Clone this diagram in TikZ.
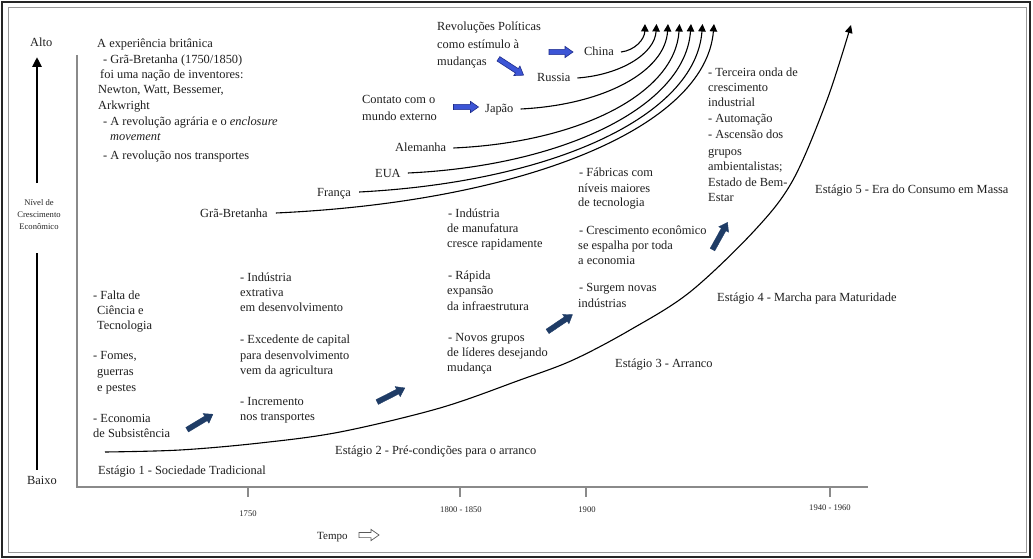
\documentclass[tikz,border=0pt]{standalone}
\usepackage{fontspec}
\setmainfont{Liberation Serif}
\usetikzlibrary{arrows.meta}
\definecolor{navy}{HTML}{1F3C66}
\definecolor{revblue}{HTML}{3C55D6}
\definecolor{revedge}{HTML}{1E2C8A}
\definecolor{axisgrey}{HTML}{8A8A8A}
\tikzset{
  txt/.style={anchor=base west, inner sep=0pt, font=\fontsize{12.4}{14}\selectfont, text=black!88},
  small/.style={anchor=base, inner sep=0pt, font=\fontsize{8.6}{10}\selectfont, text=black!85},
  curve/.style={line width=1.1pt, -{Triangle[length=7.5pt,width=7.5pt]}},
  pics/barrow/.style={code={%
    \path[pic actions] ({-#1/2},-2.6) -- ({#1/2-8},-2.6) -- ({#1/2-8},-5.6) -- ({#1/2},0)
      -- ({#1/2-8},5.6) -- ({#1/2-8},2.6) -- ({-#1/2},2.6) -- cycle;}},
}
% one line of text, placed by its baseline
\newcommand\tline[4]{\node[txt] (#1) at (#2,#3) {#4};}
\begin{document}
\begin{tikzpicture}[x=1pt,y=-1pt]
\useasboundingbox (0,0) rectangle (1033,559);
\fill[white] (0,0) rectangle (1033,559);
% outer frame
\draw[line width=1.6pt, black!85] (2,2) rectangle (1030,557);
\draw[line width=1pt, black!40] (8,8) rectangle (1026,552);

% vertical scale: growth level
\draw[line width=2.6pt, -{Triangle[length=10pt,width=9pt]}] (37,183) -- (37,57);
\draw[line width=2.6pt] (37,253) -- (37,470);
\node[txt] (alto) at (30,47) {Alto};
\node[txt] (baixo) at (27,484) {Baixo};
\node[small] (niv1) at (39,205) {Nível de};
\node[small] (niv2) at (39,217) {Crescimento};
\node[small] (niv3) at (39,229) {Econômico};

% axes
\draw[axisgrey, line width=1.3pt] (77,55) -- (77,487) -- (868,487);
\foreach \tx in {248,460,586,830} \draw[axisgrey, line width=1.3pt] (\tx,487) -- (\tx,497);
\node[small] (y1750) at (248,516) {1750};
\node[small] (y1800) at (461,512) {1800 - 1850};
\node[small] (y1900) at (587,512) {1900};
\node[small] (y1940) at (830,510) {1940 - 1960};
\node[txt, font=\fontsize{11}{12}\selectfont] (tempo) at (317,539) {Tempo};
\pic[draw=black!65, line width=0.7pt] (tarr) at (369,535) {barrow=20};

% British experience
\tline{uk1}{97}{48}{A experiência britânica}
\tline{uk2}{103}{64}{- Grã-Bretanha (1750/1850)}
\tline{uk3}{100}{79}{foi uma nação de inventores:}
\tline{uk4}{98}{94}{Newton, Watt, Bessemer,}
\tline{uk5}{98}{110}{Arkwright}
\tline{uk6}{103}{126}{- A revolução agrária e o \textit{enclosure}}
\tline{uk7}{110}{141}{\textit{movement}}
\tline{uk8}{103}{159}{- A revolução nos transportes}

% political revolutions / external contact
\tline{rv1}{437}{31}{Revoluções Políticas}
\tline{rv2}{437}{49}{como estímulo à}
\tline{rv3}{437}{66}{mudanças}
\tline{ct1}{362}{104}{Contato com o}
\tline{ct2}{362}{121}{mundo externo}
\pic[fill=revblue, draw=revedge, line width=0.6pt] (ba1) at (561,52) {barrow=24};
\pic[fill=revblue, draw=revedge, line width=0.6pt, rotate=-33] (ba2) at (511,67) {barrow=30};
\pic[fill=revblue, draw=revedge, line width=0.6pt] (ba3) at (466,107) {barrow=25};

% countries
\tline{china}{584}{56}{China}
\tline{russia}{537}{82}{Russia}
\tline{japao}{485}{113}{Japão}
\tline{alem}{395}{152}{Alemanha}
\tline{eua}{375}{177}{EUA}
\tline{franca}{317}{196}{França}
\tline{gb}{200}{217}{Grã-Bretanha}

\coordinate (tCN) at (645,24);
\coordinate (tRU) at (656.5,24);
\coordinate (tJP) at (668,24);
\coordinate (tDE) at (679.5,24);
\coordinate (tUS) at (691,24);
\coordinate (tFR) at (702.5,24);
\coordinate (tGB) at (714,24);
\draw[curve] ([xshift=7pt,yshift=4pt]china.base east) .. controls (635,50.3) and (644.6,39.4) .. (tCN);
\draw[curve] ([xshift=7pt,yshift=4pt]russia.base east) .. controls (620.7,74.8) and (654.9,53.7) .. (tRU);
\draw[curve] ([xshift=7pt,yshift=4pt]japao.base east) .. controls (604.6,104.8) and (665.2,71.3) .. (tJP);
\draw[curve] ([xshift=7pt,yshift=4pt]alem.base east) .. controls (579.8,142.4) and (675.1,93.3) .. (tDE);
\draw[curve] ([xshift=7pt,yshift=4pt]eua.base east) .. controls (562.3,165.9) and (685.3,107) .. (tUS);
\draw[curve] ([xshift=8pt,yshift=4pt]franca.base east) .. controls (552,182) and (695.8,116.4) .. (tFR);
\draw[curve] ([xshift=8pt,yshift=4pt]gb.base east) .. controls (523,201.7) and (705.5,128) .. (tGB);

% main growth curve
\draw[line width=1.1pt, -{Triangle[length=8pt,width=7.5pt]}] plot[smooth, tension=0.55] coordinates
  {(105,452) (180,450) (260,443) (340,432) (440,408) (520,380) (573,360) (630,330)
   (690,292) (755,230) (793,180) (827,100) (851,25)};

% stage 1
\tline{a1}{93}{299}{- Falta de}
\tline{a2}{97}{314}{Ciência e}
\tline{a3}{97}{329}{Tecnologia}
\tline{a4}{93}{359}{- Fomes,}
\tline{a5}{97}{375}{guerras}
\tline{a6}{97}{391}{e pestes}
\tline{a7}{93}{422}{- Economia}
\tline{a8}{93}{437}{de Subsistência}
% stage 2
\tline{b1}{240}{281}{- Indústria}
\tline{b2}{240}{296}{extrativa}
\tline{b3}{240}{311}{em desenvolvimento}
\tline{b4}{240}{343}{- Excedente de capital}
\tline{b5}{240}{359}{para desenvolvimento}
\tline{b6}{240}{374}{vem da agricultura}
\tline{b7}{240}{405}{- Incremento}
\tline{b8}{240}{420}{nos transportes}
% stage 3
\tline{c1}{448}{217}{- Indústria}
\tline{c2}{447}{232}{de manufatura}
\tline{c3}{447}{247}{cresce rapidamente}
\tline{c4}{448}{279}{- Rápida}
\tline{c5}{447}{294}{expansão}
\tline{c6}{447}{310}{da infraestrutura}
\tline{c7}{448}{341}{- Novos grupos}
\tline{c8}{447}{356}{de líderes desejando}
\tline{c9}{447}{371}{mudança}
% stage 4
\tline{d1}{579}{176}{- Fábricas com}
\tline{d2}{578}{192}{níveis maiores}
\tline{d3}{578}{206}{de tecnologia}
\tline{d4}{579}{234}{- Crescimento econômico}
\tline{d5}{578}{249}{se espalha por toda}
\tline{d6}{578}{264}{a economia}
\tline{d7}{579}{291}{- Surgem novas}
\tline{d8}{578}{307}{indústrias}
% stage 5
\tline{e1}{708}{77}{- Terceira onda de}
\tline{e2}{708}{92}{crescimento}
\tline{e3}{708}{107}{industrial}
\tline{e4}{708}{123}{- Automação}
\tline{e5}{708}{139}{- Ascensão dos}
\tline{e6}{708}{155}{grupos}
\tline{e7}{708}{171}{ambientalistas;}
\tline{e8}{708}{186}{Estado de Bem-}
\tline{e9}{708}{201}{Estar}

% transition arrows
\pic[fill=navy, draw=navy, rotate=31] (na1) at (200,422) {barrow=30};
\pic[fill=navy, draw=navy, rotate=27] (na2) at (391,395) {barrow=31};
\pic[fill=navy, draw=navy, rotate=34] (na3) at (560,323) {barrow=30};
\pic[fill=navy, draw=navy, rotate=61] (na4) at (720,236) {barrow=31};

% stage names
\tline{st1}{98}{474}{Estágio 1 - Sociedade Tradicional}
\tline{st2}{335}{454}{Estágio 2 - Pré-condições para o arranco}
\tline{st3}{615}{367}{Estágio 3 - Arranco}
\tline{st4}{717}{301}{Estágio 4 - Marcha para Maturidade}
\tline{st5}{815}{193}{Estágio 5 - Era do Consumo em Massa}
\end{tikzpicture}
\end{document}
